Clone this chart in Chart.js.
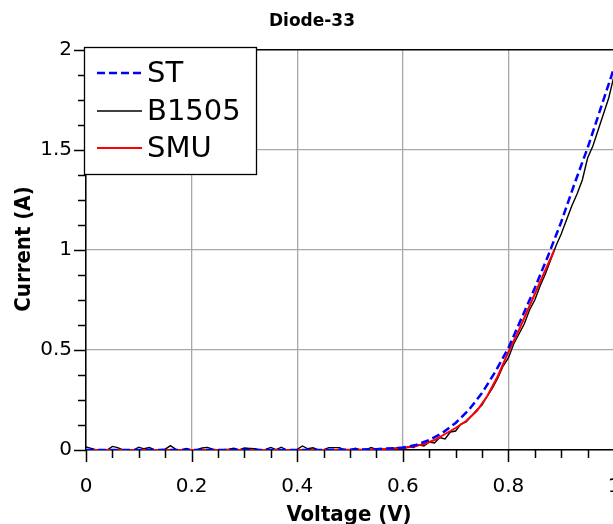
<!DOCTYPE html>
<html>
<head>
<meta charset="utf-8">
<script src="https://cdn.jsdelivr.net/npm/chart.js@4"></script>
<style>
  html, body { margin: 0; padding: 0; background: #fff; overflow: hidden; }
  #wrap { width: 650px; height: 524px; }
</style>
</head>
<body>
<div id="wrap"><canvas id="chart" width="650" height="524" style="width:650px;height:524px"></canvas></div>
<script>
// ST model curve (dashed blue)
const stVoltage = [0, 0.1, 0.2, 0.3, 0.4, 0.5, 0.55, 0.6, 0.625, 0.65, 0.675, 0.7, 0.725, 0.75,
    0.775, 0.8, 0.825, 0.85, 0.875, 0.9, 0.925, 0.95, 0.975, 1.0];
const stCurrent = [0, 0, 0, 0, 0, 0.001, 0.004, 0.012, 0.025, 0.05, 0.085, 0.135, 0.2, 0.285,
    0.39, 0.51, 0.66, 0.81, 0.97, 1.14, 1.33, 1.51, 1.71, 1.91];

// B1505 measurement (thin black, 10 mV steps)
const b1505Voltage = [0, 0.01, 0.02, 0.03, 0.04, 0.05, 0.06, 0.07, 0.08, 0.09,
    0.1, 0.11, 0.12, 0.13, 0.14, 0.15, 0.16, 0.17, 0.18, 0.19,
    0.2, 0.21, 0.22, 0.23, 0.24, 0.25, 0.26, 0.27, 0.28, 0.29,
    0.3, 0.31, 0.32, 0.33, 0.34, 0.35, 0.36, 0.37, 0.38, 0.39,
    0.4, 0.41, 0.42, 0.43, 0.44, 0.45, 0.46, 0.47, 0.48, 0.49,
    0.5, 0.51, 0.52, 0.53, 0.54, 0.55, 0.56, 0.57, 0.58, 0.59,
    0.6, 0.61, 0.62, 0.63, 0.64, 0.65, 0.66, 0.67, 0.68, 0.69,
    0.7, 0.71, 0.72, 0.73, 0.74, 0.75, 0.76, 0.77, 0.78, 0.79,
    0.8, 0.81, 0.82, 0.83, 0.84, 0.85, 0.86, 0.87, 0.88, 0.89,
    0.9, 0.91, 0.92, 0.93, 0.94, 0.95, 0.96, 0.97, 0.98, 0.99, 1.0];
const b1505Current = [0.015, 0.008, 0, 0.002, 0, 0.018, 0.012, 0, 0.001, 0,
    0.014, 0.006, 0.012, 0, 0.002, 0.004, 0.022, 0.003, 0, 0.008,
    0, 0.002, 0.01, 0.013, 0.004, 0, 0.001, 0.004, 0.009, 0,
    0.01, 0.008, 0.006, 0, 0.003, 0.013, 0.002, 0.014, 0, 0,
    0.003, 0.02, 0.006, 0.011, 0, 0.002, 0.012, 0.012, 0.012, 0,
    0, 0.009, 0, 0, 0.012, 0.003, 0.006, 0, 0.004, 0.012,
    0.004, 0.016, 0.012, 0.026, 0.02, 0.04, 0.035, 0.062, 0.055, 0.09,
    0.095, 0.13, 0.14, 0.17, 0.2, 0.225, 0.27, 0.31, 0.36, 0.42,
    0.46, 0.53, 0.58, 0.63, 0.7, 0.75, 0.82, 0.88, 0.95, 1.02,
    1.08, 1.15, 1.22, 1.28, 1.35, 1.46, 1.52, 1.6, 1.68, 1.76, 1.87];

// SMU measurement (red)
const smuVoltage = [0, 0.1, 0.2, 0.3, 0.4, 0.45, 0.5, 0.55, 0.58, 0.6, 0.62, 0.64, 0.66, 0.68,
    0.7, 0.72, 0.74, 0.76, 0.78, 0.8, 0.82, 0.84, 0.86, 0.887];
const smuCurrent = [0, 0, 0, 0, 0, 0.0005, 0.001, 0.003, 0.006, 0.01, 0.018, 0.03, 0.05, 0.08,
    0.11, 0.145, 0.195, 0.27, 0.37, 0.49, 0.6, 0.72, 0.84, 1.0];

const xTickValues = [0, 0.2, 0.4, 0.6, 0.8, 1];
const yTickValues = [0, 0.5, 1, 1.5, 2];

const toPoints = (xs, ys) => xs.map((x, i) => ({ x: x, y: ys[i] }));

const GRID_GRAY = '#a9a9a9';
const SANS = "'DejaVu Sans', sans-serif";
const BOLD_COND = "'DejaVu Sans Condensed', 'DejaVu Sans', sans-serif";

// titles, minor ticks and the boxed legend
const diodeDecor = {
    id: 'diodeDecor',
    afterDraw(chart) {
        const ctx = chart.ctx;
        const xs = chart.scales.x;
        const ys = chart.scales.y;
        const area = chart.chartArea;
        ctx.save();

        // tick marks, 3 minor between majors
        ctx.strokeStyle = '#000';
        ctx.lineWidth = 1.5;
        ctx.beginPath();
        for (let i = 0; i <= 20; i++) {
            const px = Math.round(xs.getPixelForValue(i * 0.05)) + 0.5;
            const len = i % 4 === 0 ? 12 : 8;
            ctx.moveTo(px, area.bottom);
            ctx.lineTo(px, area.bottom + len);
        }
        for (let i = 0; i <= 16; i++) {
            const py = Math.round(ys.getPixelForValue(i * 0.125)) + 0.5;
            const len = i % 4 === 0 ? 12 : 8;
            ctx.moveTo(area.left, py);
            ctx.lineTo(area.left - len, py);
        }
        ctx.stroke();

        // title
        ctx.fillStyle = '#000';
        ctx.textAlign = 'center';
        ctx.textBaseline = 'alphabetic';
        ctx.font = "bold 17px 'DejaVu Sans', sans-serif";
        ctx.fillText('Diode-33', 312, 26);

        // axis titles
        ctx.font = 'bold 22px ' + BOLD_COND;
        ctx.fillText('Voltage (V)', 349, 521);
        ctx.save();
        ctx.translate(30, 249);
        ctx.rotate(-Math.PI / 2);
        ctx.fillText('Current (A)', 0, 0);
        ctx.restore();

        // legend box
        const box = { x: 84.5, y: 47.5, w: 172, h: 127 };
        ctx.fillStyle = '#fff';
        ctx.fillRect(box.x, box.y, box.w, box.h);
        ctx.strokeStyle = '#000';
        ctx.lineWidth = 1.3;
        ctx.strokeRect(box.x, box.y, box.w, box.h);

        const rows = [73, 111, 148];
        ctx.font = '29px ' + SANS;
        ctx.textAlign = 'left';
        ctx.textBaseline = 'middle';
        chart.data.datasets.forEach((ds, i) => {
            const y = rows[i];
            ctx.save();
            ctx.strokeStyle = ds.borderColor;
            ctx.lineWidth = ds.borderWidth;
            ctx.setLineDash(ds.borderDash || []);
            ctx.beginPath();
            ctx.moveTo(97, y);
            ctx.lineTo(142, y);
            ctx.stroke();
            ctx.restore();
            ctx.fillStyle = '#000';
            ctx.fillText(ds.label, 147, y + 1);
        });

        ctx.restore();
    }
};

new Chart(document.getElementById('chart'), {
    type: 'scatter',
    data: {
        datasets: [
            {
                label: 'ST',
                data: toPoints(stVoltage, stCurrent),
                showLine: true,
                borderColor: '#0000ff',
                borderWidth: 2.5,
                borderDash: [8, 4],
                pointRadius: 0,
                order: 0
            },
            {
                label: 'B1505',
                data: toPoints(b1505Voltage, b1505Current),
                showLine: true,
                borderColor: '#000000',
                borderWidth: 1.4,
                pointRadius: 0,
                order: 2
            },
            {
                label: 'SMU',
                data: toPoints(smuVoltage, smuCurrent),
                showLine: true,
                borderColor: '#ff0000',
                borderWidth: 2,
                pointRadius: 0,
                order: 1
            }
        ]
    },
    options: {
        responsive: false,
        animation: false,
        devicePixelRatio: 1,
        layout: { padding: { top: 50, left: 0, right: 36, bottom: 0 } },
        plugins: {
            legend: { display: false },
            tooltip: { enabled: false },
            title: { display: false }
        },
        scales: {
            x: {
                type: 'linear',
                min: 0,
                max: 1,
                afterFit: (scale) => { scale.height = 74; },
                afterBuildTicks: (scale) => { scale.ticks = xTickValues.map(v => ({ value: v })); },
                grid: { color: GRID_GRAY, lineWidth: 1.3, drawTicks: false },
                border: { color: '#000', width: 1.5 },
                ticks: {
                    padding: 25,
                    color: '#000',
                    maxRotation: 0,
                    callback: (v) => String(v),
                    font: { family: SANS, size: 20 }
                }
            },
            y: {
                type: 'linear',
                min: 0,
                max: 2,
                afterFit: (scale) => { scale.width = 86; },
                afterBuildTicks: (scale) => { scale.ticks = yTickValues.map(v => ({ value: v })); },
                grid: {
                    color: (c) => (c.tick && c.tick.value === 2 ? '#000' : GRID_GRAY),
                    lineWidth: (c) => (c.tick && c.tick.value === 2 ? 1.5 : 1.3),
                    drawTicks: false
                },
                border: { color: '#000', width: 1.5 },
                ticks: {
                    padding: 14,
                    color: '#000',
                    callback: (v) => String(v),
                    font: { family: SANS, size: 20 }
                }
            }
        }
    },
    plugins: [diodeDecor]
});
</script>
</body>
</html>
